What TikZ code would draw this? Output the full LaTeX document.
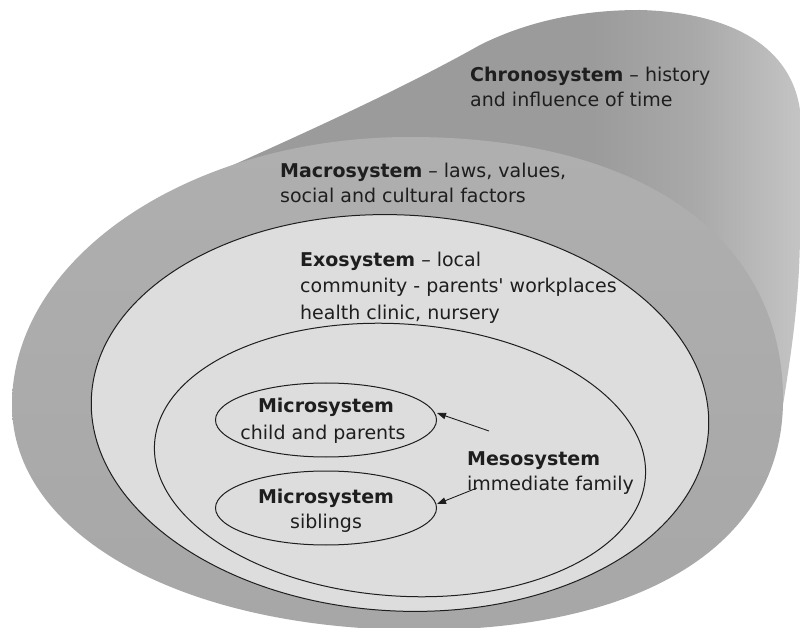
\documentclass[tikz,border=0pt]{standalone}
\usepackage{fontspec}
\newfontfamily\diagfont{DejaVu Sans}
\usetikzlibrary{arrows.meta,shapes.geometric}
\definecolor{chA}{HTML}{9B9B9B}
\definecolor{chB}{HTML}{A9A9A9}
\definecolor{chC}{HTML}{C4C4C4}
\definecolor{faceT}{HTML}{AFAFAF}
\definecolor{faceB}{HTML}{A7A7A7}
\definecolor{inner}{HTML}{DDDDDD}
\definecolor{ink}{HTML}{1E1E1E}
\pgfdeclarehorizontalshading{chronoshade}{100bp}{color(0bp)=(chA); color(25bp)=(chA); color(57bp)=(chA); color(66bp)=(chB); color(75bp)=(chC); color(100bp)=(chC)}
\tikzset{
  ring/.style={fill=inner, draw=ink, line width=1pt},
  microbox/.style={ellipse, fill=inner, draw=ink, line width=1pt, inner sep=0pt, minimum width=221pt, minimum height=74pt},
  txt/.style={font=\diagfont\fontsize{19}{25}\selectfont, text=ink, inner sep=0pt, anchor=base west},
  ctxt/.style={txt, anchor=base},
  linkarrow/.style={draw=ink, line width=0.9pt, -{Triangle[length=9pt,width=6.5pt]}}
}
\begin{document}
\begin{tikzpicture}[x=1pt,y=-1pt]
\useasboundingbox (0,0) rectangle (801,628);
\fill[white] (0,0) rectangle (801,628);
% chronosystem (back of the cylinder)
\shade[shading=chronoshade] (222,170) .. controls (300,135) and (400,90) .. (480,45)
  .. controls (540,15) and (600,10) .. (640,10)
  .. controls (720,12) and (790,40) .. (800,110)
  -- (800,230) .. controls (800,300) and (790,360) .. (783,405)
  -- (400,400) -- cycle;
% macrosystem (front face)
\path[top color=faceT, bottom color=faceB] (12,405)
  .. controls (12,257) and (190,137) .. (410,137)
  .. controls (641,137) and (783,237) .. (783,400)
  .. controls (783,543) and (645,630) .. (420,630)
  .. controls (183,630) and (12,535) .. (12,405) -- cycle;
% exosystem and mesosystem
\path[ring, rotate around={-3:(400,413)}] (400,413) ellipse [x radius=309, y radius=198];
\path[ring, rotate around={-4:(400,460)}] (400,460) ellipse [x radius=246, y radius=136];
% microsystems
\node[microbox] (m1) at (326,420) {};
\node[microbox] (m2) at (326,508) {};
% texts
\node[txt] (c1) at (470,82) {\textbf{Chronosystem} – history};
\node[txt] (c2) at (470,107) {and influence of time};
\node[txt] (ma1) at (280,178) {\textbf{Macrosystem} – laws, values,};
\node[txt] (ma2) at (280,203) {social and cultural factors};
\node[txt] (e1) at (300,267) {\textbf{Exosystem} – local};
\node[txt] (e2) at (300,293) {community - parents' workplaces};
\node[txt] (e3) at (300,320) {health clinic, nursery};
\node[ctxt] (mi1a) at (326,413) {\textbf{Microsystem}};
\node[ctxt] (mi1b) at (323,439) {child and parents};
\node[ctxt] (mi2a) at (326,503) {\textbf{Microsystem}};
\node[ctxt] (mi2b) at (326,528) {siblings};
\node[txt] (me1) at (467,465) {\textbf{Mesosystem}};
\node[txt] (me2) at (467,490) {immediate family};
% arrows
\coordinate (s1) at (489,431);
\coordinate (s2) at (477,488);
\draw[linkarrow] (s1) -- ([yshift=7pt]m1.east);
\draw[linkarrow] (s2) -- ([yshift=4pt]m2.east);
\end{tikzpicture}
\end{document}
